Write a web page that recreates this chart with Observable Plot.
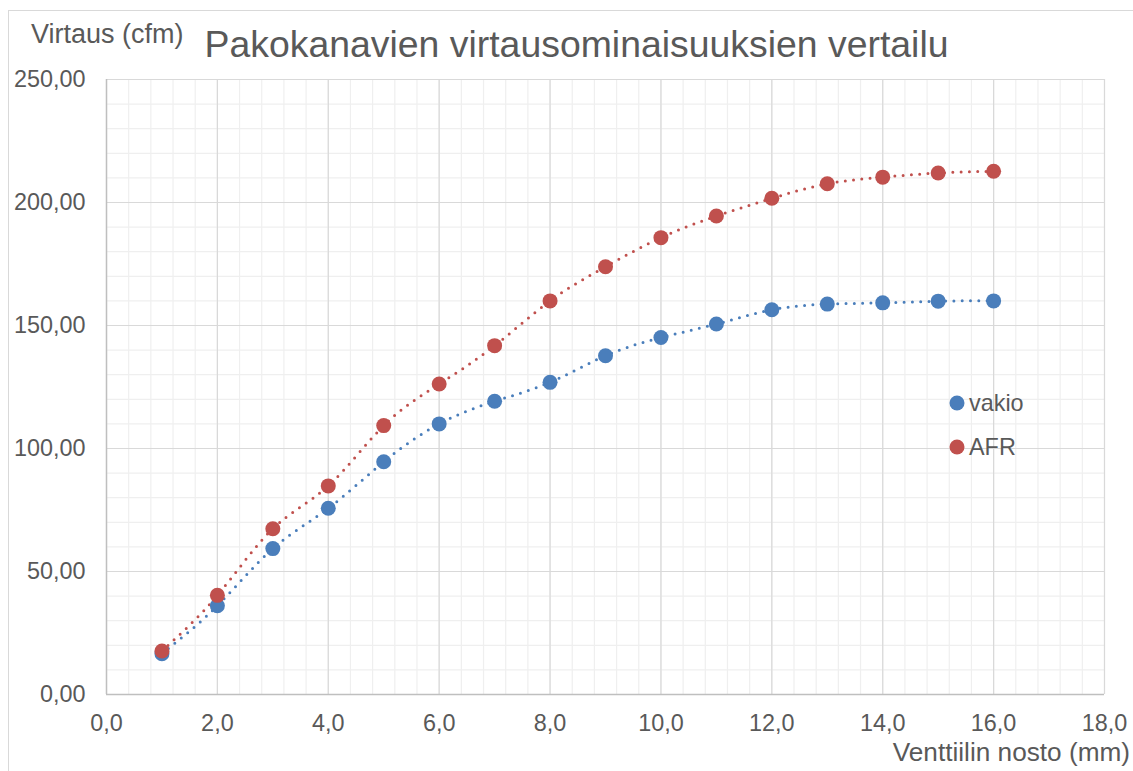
<!DOCTYPE html>
<html>
<head>
<meta charset="utf-8">
<script src="https://cdn.jsdelivr.net/npm/d3@7"></script>
<script src="https://cdn.jsdelivr.net/npm/@observablehq/plot@0.6"></script>
<style>
  html, body { margin: 0; padding: 0; background: #fff; overflow: hidden; }
  #wrap { position: relative; width: 1133px; height: 771px; }
  #border { position: absolute; left: 8px; top: 10px; width: 1200px; height: 800px; border: 1px solid #d9d9d9; box-sizing: border-box; }
  #chart { position: absolute; left: 0; top: 0; }
</style>
</head>
<body>
<div id="wrap"><div id="border"></div><div id="chart"></div></div>
<script>
// ---- data ----
const lift = [1, 2, 3, 4, 5, 6, 7, 8, 9, 10, 11, 12, 13, 14, 15, 16];
const vakio = [16.6, 36.1, 59.3, 75.7, 94.6, 110.0, 119.2, 126.9, 137.7, 145.1, 150.6, 156.4, 158.7, 159.2, 159.9, 160.0];
const afr = [17.7, 40.3, 67.4, 84.8, 109.3, 126.2, 141.8, 160.0, 173.9, 185.7, 194.5, 201.7, 207.6, 210.3, 212.0, 212.7];
const seriesNames = ["vakio", "AFR"];
const seriesColors = ["#4a7ebb", "#c0504d"];
const xTicks = [0, 2, 4, 6, 8, 10, 12, 14, 16, 18];
const yTicks = [0, 50, 100, 150, 200, 250];
const titleText = "Pakokanavien virtausominaisuuksien vertailu";
const yTitle = "Virtaus (cfm)";
const xTitle = "Venttiilin nosto (mm)";

const rows = [];
lift.forEach((x, i) => {
  rows.push({x, y: vakio[i], s: "vakio"});
  rows.push({x, y: afr[i], s: "AFR"});
});
const xMinor = d3.range(0, 18.0001, 0.4).map(v => +v.toFixed(1));
const yMinor = d3.range(0, 250.0001, 10);

const W = 1133, H = 771;
const mL = 106, mR = 29, mT = 79, mB = 77;

const plot = Plot.plot({
  width: W, height: H,
  marginLeft: mL, marginRight: mR, marginTop: mT, marginBottom: mB,
  style: { fontFamily: "'Liberation Sans', Arial, sans-serif", fontSize: "23.4px", color: "#595959", background: "transparent", overflow: "visible" },
  x: { domain: [0, 18], ticks: xTicks, tickSize: 0, tickPadding: 20, tickFormat: d => d.toFixed(1).replace(".", ","), label: null },
  y: { domain: [0, 250], ticks: yTicks, tickSize: 0, tickPadding: 21, tickFormat: d => d.toFixed(2).replace(".", ","), label: null },
  color: { domain: seriesNames, range: seriesColors },
  marks: [
    Plot.ruleX(xMinor, { stroke: "#efefef", strokeWidth: 1.2 }),
    Plot.ruleY(yMinor, { stroke: "#efefef", strokeWidth: 1.2 }),
    Plot.ruleX(xTicks.slice(1), { stroke: "#d9d9d9", strokeWidth: 1.2 }),
    Plot.ruleY(yTicks.slice(1), { stroke: "#d9d9d9", strokeWidth: 1.2 }),
    Plot.ruleX([0], { stroke: "#bfbfbf", strokeWidth: 1.5 }),
    Plot.ruleY([0], { stroke: "#bfbfbf", strokeWidth: 1.5 }),
    Plot.line(rows, { x: "x", y: "y", z: "s", stroke: "s", curve: "natural", strokeWidth: 3, strokeLinecap: "round", strokeDasharray: "0,8.3" }),
    Plot.dot(rows, { x: "x", y: "y", fill: "s", r: 7.5, stroke: null })
  ]
});

document.getElementById("chart").appendChild(plot);

// titles and legend (non-data annotations)
const svg = d3.select(plot);
const ann = svg.append("g").attr("font-family", "'Liberation Sans', Arial, sans-serif").attr("fill", "#595959");
ann.append("text").attr("x", 576.5).attr("y", 57).attr("text-anchor", "middle").attr("font-size", "37.4px").text(titleText);
ann.append("text").attr("x", 31).attr("y", 43).attr("text-anchor", "start").attr("font-size", "27px").text(yTitle);
ann.append("text").attr("x", 1130).attr("y", 761).attr("text-anchor", "end").attr("font-size", "26.2px").text(xTitle);

const leg = ann.append("g");
seriesNames.forEach((name, i) => {
  const cy = 403 + i * 44;
  leg.append("circle").attr("cx", 957).attr("cy", cy).attr("r", 7.5).attr("fill", seriesColors[i]);
  leg.append("text").attr("x", 969).attr("y", cy).attr("dy", "0.35em").attr("text-anchor", "start").attr("font-size", "23.4px").text(name);
});
</script>
</body>
</html>
